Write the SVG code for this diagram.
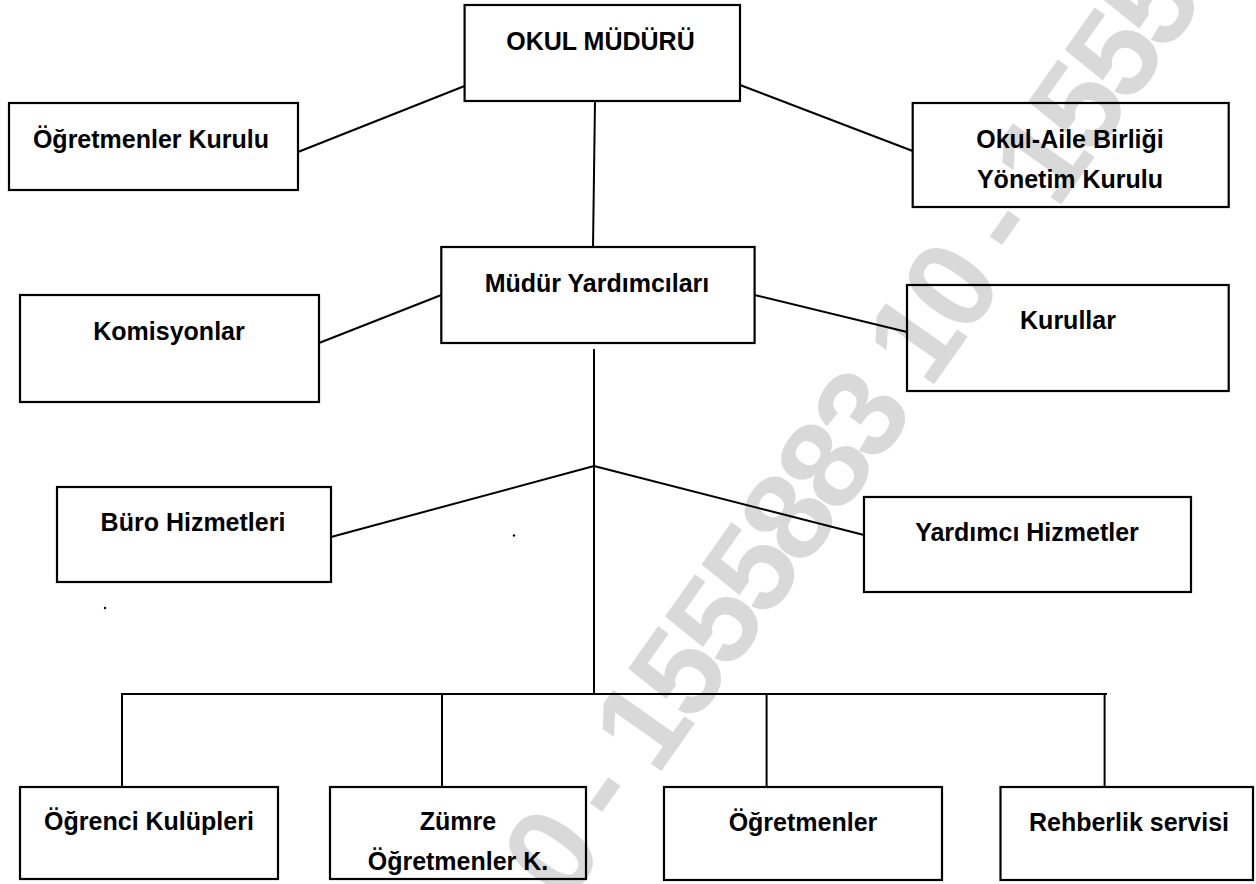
<svg xmlns="http://www.w3.org/2000/svg" width="1256" height="884" viewBox="0 0 1256 884">
<style>
.box{fill:none;stroke:#000;stroke-width:2.2}
.lbl{font-family:"Liberation Sans",Arial,sans-serif;font-weight:bold;font-size:25px;fill:#000;text-anchor:middle}
.con{stroke:#000;stroke-width:2;fill:none}
.wm{font-family:"Liberation Sans",Arial,sans-serif;font-weight:bold;font-size:125px;letter-spacing:-6px;fill:#d9d9d9}
</style>
<rect x="0" y="0" width="1256" height="884" fill="#fff"/>
<g id="watermark">
<text class="wm" transform="translate(631.6,813.2) rotate(-54.8)" x="-113" y="0">0 - 1555883 10 - 1555883 10</text>
</g>
<g id="connectors">
<line class="con" x1="464.6" y1="86" x2="298" y2="152"/>
<line class="con" x1="740" y1="85" x2="912.7" y2="151"/>
<line class="con" x1="595" y1="101" x2="593" y2="247"/>
<line class="con" x1="441.3" y1="295" x2="319" y2="343"/>
<line class="con" x1="754.6" y1="295" x2="907" y2="332"/>
<line class="con" x1="594" y1="349" x2="594" y2="694"/>
<line class="con" x1="594" y1="466" x2="331" y2="537"/>
<line class="con" x1="594" y1="466" x2="864" y2="535"/>
<line class="con" x1="121" y1="694" x2="1107" y2="694"/>
<line class="con" x1="122" y1="694" x2="122" y2="787"/>
<line class="con" x1="442" y1="694" x2="442" y2="787"/>
<line class="con" x1="766.6" y1="694" x2="766.6" y2="787"/>
<line class="con" x1="1104.6" y1="694" x2="1104.6" y2="787"/>
</g>
<g id="okul-muduru">
<rect class="box" x="464.6" y="5" width="275.4" height="96"/>
<text class="lbl" x="600.5" y="50">OKUL MÜDÜRÜ</text>
</g>
<g id="ogretmenler-kurulu">
<rect class="box" x="9" y="103" width="289" height="87"/>
<text class="lbl" x="151" y="148">Öğretmenler Kurulu</text>
</g>
<g id="okul-aile">
<rect class="box" x="912.7" y="103" width="316" height="104"/>
<text class="lbl" x="1070" y="148">Okul-Aile Birliği</text>
<text class="lbl" x="1070" y="188">Yönetim Kurulu</text>
</g>
<g id="mudur-yardimcilari">
<rect class="box" x="441.3" y="247" width="313.3" height="96"/>
<text class="lbl" x="597" y="292">Müdür Yardımcıları</text>
</g>
<g id="komisyonlar">
<rect class="box" x="20" y="295" width="299" height="107"/>
<text class="lbl" x="169" y="340">Komisyonlar</text>
</g>
<g id="kurullar">
<rect class="box" x="907" y="285" width="321.7" height="106"/>
<text class="lbl" x="1068" y="329">Kurullar</text>
</g>
<g id="buro-hizmetleri">
<rect class="box" x="57" y="487" width="274" height="95"/>
<text class="lbl" x="193" y="531">Büro Hizmetleri</text>
</g>
<g id="yardimci-hizmetler">
<rect class="box" x="864" y="497" width="327" height="95"/>
<text class="lbl" x="1027" y="541">Yardımcı Hizmetler</text>
</g>
<g id="dots">
<circle cx="514" cy="535.5" r="1.2" fill="#000"/>
<circle cx="105" cy="608" r="1.2" fill="#000"/>
</g>
<g id="ogrenci-kulupleri">
<rect class="box" x="20" y="787" width="258" height="92"/>
<text class="lbl" x="149" y="830">Öğrenci Kulüpleri</text>
</g>
<g id="zumre">
<rect class="box" x="330" y="787" width="256" height="92"/>
<text class="lbl" x="458" y="830">Zümre</text>
<text class="lbl" x="458" y="870">Öğretmenler K.</text>
</g>
<g id="ogretmenler">
<rect class="box" x="664" y="787" width="278" height="93"/>
<text class="lbl" x="803" y="831">Öğretmenler</text>
</g>
<g id="rehberlik">
<rect class="box" x="1000.5" y="787" width="252.5" height="93"/>
<text class="lbl" x="1129" y="831">Rehberlik servisi</text>
</g>
</svg>
